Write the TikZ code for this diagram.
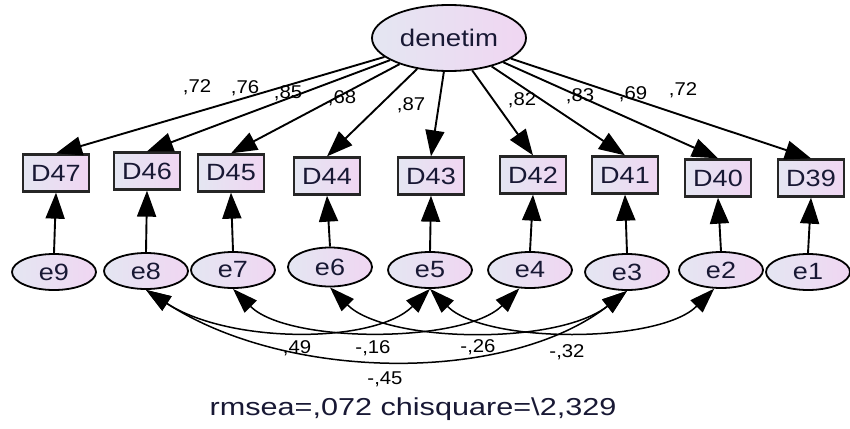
\documentclass[tikz,border=0pt]{standalone}
\usepackage{fontspec}
\setmainfont{Liberation Sans}
\newfontfamily\nodefont[FakeStretch=1.15]{Liberation Sans}
\newfontfamily\labfont[FakeStretch=1.1]{Liberation Sans}
\newfontfamily\fitfont[FakeStretch=1.25]{Liberation Sans}
\usetikzlibrary{arrows.meta,shapes.geometric}

\definecolor{txtnavy}{RGB}{24,24,52}
\definecolor{fillL}{RGB}{228,230,242}
\definecolor{fillR}{RGB}{240,214,242}

\tikzset{
  x=1pt, y=1pt,
  shade2/.style={left color=fillL, right color=fillR},
  obsbox/.style={shade2, draw=black!85, line width=2.3pt, minimum width=66pt,
    minimum height=37pt, inner sep=0pt, text=txtnavy,
    font=\nodefont\fontsize{23.5}{23.5}\selectfont},
  errnode/.style={ellipse, shade2, draw=black, line width=1.8pt, minimum width=84pt,
    minimum height=36pt, inner sep=0pt, text=txtnavy,
    font=\nodefont\fontsize{23.5}{23.5}\selectfont},
  latnode/.style={ellipse, shade2, draw=black, line width=1.8pt, minimum width=154pt,
    minimum height=66pt, inner sep=0pt, text=txtnavy,
    font=\nodefont\fontsize{24}{24}\selectfont},
  regpath/.style={line width=1.9pt, -{Triangle[length=26pt,width=19pt]}},
  covpath/.style={line width=1.5pt,
    {Triangle[length=25pt,width=17pt]}-{Triangle[length=25pt,width=17pt]}},
  estlab/.style={font=\labfont\fontsize{18.5}{18.5}\selectfont, text=black, inner sep=0pt},
}

\begin{document}
\begin{tikzpicture}
\useasboundingbox (0,0) rectangle (850,-428);

% latent factor
\node[latnode] (den) at (449,-38) {denetim};

% indicators
\node[obsbox] (d47) at (56,-173)  {D47};
\node[obsbox] (d46) at (147,-171) {D46};
\node[obsbox] (d45) at (231,-173) {D45};
\node[obsbox] (d44) at (327,-176) {D44};
\node[obsbox] (d43) at (431,-176) {D43};
\node[obsbox] (d42) at (533,-175) {D42};
\node[obsbox] (d41) at (625,-175) {D41};
\node[obsbox] (d40) at (718,-178) {D40};
\node[obsbox] (d39) at (811,-178) {D39};

% error terms
\node[errnode] (e9) at (54,-272)  {e9};
\node[errnode] (e8) at (146,-271) {e8};
\node[errnode] (e7) at (233,-270) {e7};
\node[errnode, minimum height=39pt] (e6) at (330,-267) {e6};
\node[errnode] (e5) at (430,-270) {e5};
\node[errnode] (e4) at (530,-270) {e4};
\node[errnode] (e3) at (627,-272) {e3};
\node[errnode] (e2) at (721,-270) {e2};
\node[errnode] (e1) at (808,-272) {e1};

% standardized loadings
\node[estlab] (l47) at (197,-87)  {,72};
\node[estlab] (l46) at (245,-88)  {,76};
\node[estlab] (l45) at (288,-93)  {,85};
\node[estlab] (l44) at (342,-98)  {,68};
\node[estlab] (l43) at (411,-105) {,87};
\node[estlab] (l42) at (522,-100) {,82};
\node[estlab] (l41) at (580,-96)  {,83};
\node[estlab] (l40) at (633,-94)  {,69};
\node[estlab] (l39) at (683,-90)  {,72};

% factor loadings
\foreach \d in {d47,d46,d45,d44,d43,d42,d41,d40,d39}
  \draw[regpath] (den) -- (\d.north);

% error paths
\foreach \e/\d in {e9/d47,e8/d46,e7/d45,e6/d44,e5/d43,e4/d42,e3/d41,e2/d40,e1/d39}
  \draw[regpath] (\e.north) -- (\d.south);

% error covariances
\draw[covpath] (e8.south) .. controls +(-33:100) and +(-135:78) .. (e5.south);
\draw[covpath] (e8.south) .. controls +(-33:170) and +(-142:150) .. (e3.south);
\draw[covpath] (e7.south) .. controls +(-45:78) and +(-135:78) .. (e4.240);
\draw[covpath] (e6.south) .. controls +(-45:78) and +(-142:90) .. (e3.south);
\draw[covpath] (e5.south) .. controls +(-45:78) and +(-135:78) .. (e2.250);

% covariance estimates
\node[estlab] (c85) at (297,-348) {,49};
\node[estlab] (c74) at (373,-348) {-,16};
\node[estlab] (c63) at (478,-347) {-,26};
\node[estlab] (c52) at (567,-352) {-,32};
\node[estlab] (c83) at (385,-379) {-,45};

% fit indices
\node[inner sep=0pt, text=txtnavy, font=\fitfont\fontsize{24.5}{24.5}\selectfont]
  (fit) at (413,-409) {rmsea=,072 chisquare=\textbackslash 2,329};
\end{tikzpicture}
\end{document}
